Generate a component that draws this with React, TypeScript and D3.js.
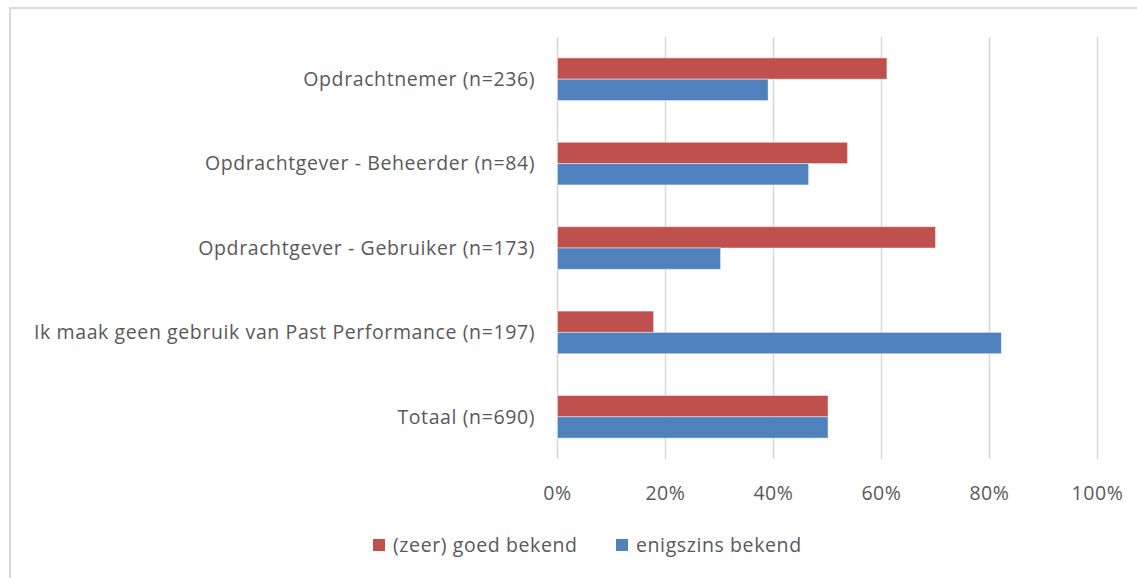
import * as d3 from "d3";

const categories = [
  "Opdrachtnemer (n=236)",
  "Opdrachtgever - Beheerder (n=84)",
  "Opdrachtgever - Gebruiker (n=173)",
  "Ik maak geen gebruik van Past Performance (n=197)",
  "Totaal (n=690)",
];
const seriesNames = ["(zeer) goed bekend", "enigszins bekend"];
const zeerGoedBekend = [0.61, 0.537, 0.70, 0.178, 0.501];
const enigszinsBekend = [0.39, 0.465, 0.302, 0.822, 0.501];
const xTicks = [0, 0.2, 0.4, 0.6, 0.8, 1];

const colors = ["#C0504D", "#4F81BD"];
const textColor = "#595959";
const font = "'Open Sans', sans-serif";
const fontSize = 19.5;
const spacing = 0.6;

export default function App() {
  const width = 1137;
  const height = 578;
  const plot = { left: 557.5, right: 1097.5, top: 37, bottom: 459 };

  const x = d3.scaleLinear().domain([0, 1]).range([plot.left, plot.right]);
  const y = d3
    .scaleBand<string>()
    .domain(categories)
    .range([plot.top, plot.bottom])
    .paddingInner(0.495)
    .paddingOuter(0.2475);
  const sub = d3
    .scaleBand<string>()
    .domain(seriesNames)
    .range([0, y.bandwidth()]);

  const series = [zeerGoedBekend, enigszinsBekend];

  return (
    <svg
      width={width}
      height={height}
      style={{ position: "absolute", left: 0, top: 0, background: "#fff" }}
      fontFamily={font}
      fontSize={fontSize}
      letterSpacing={spacing}
    >
      {/* chart border */}
      <rect
        x={10}
        y={8}
        width={width + 10}
        height={height + 10}
        fill="none"
        stroke="#d9d9d9"
        strokeWidth={2}
      />

      {/* gridlines */}
      {xTicks.map((t) => (
        <line
          key={t}
          x1={x(t)}
          x2={x(t)}
          y1={plot.top}
          y2={plot.bottom}
          stroke="#d9d9d9"
          strokeWidth={1.6}
        />
      ))}

      {/* bars */}
      {categories.map((c, i) =>
        series.map((vals, s) => (
          <rect
            key={c + s}
            x={x(0)}
            y={(y(c) ?? 0) + (sub(seriesNames[s]) ?? 0)}
            width={x(vals[i]) - x(0)}
            height={sub.bandwidth()}
            fill={colors[s]}
            stroke="#ffffff"
            strokeOpacity={0.45}
            strokeWidth={1}
          />
        ))
      )}

      {/* category labels */}
      {categories.map((c) => (
        <text
          key={c}
          x={535}
          y={(y(c) ?? 0) + y.bandwidth() / 2}
          dy="0.35em"
          textAnchor="end"
          fill={textColor}
        >
          {c}
        </text>
      ))}

      {/* x tick labels */}
      {xTicks.map((t) => (
        <text
          key={t}
          x={x(t)}
          y={493}
          dy="0.35em"
          textAnchor="middle"
          fill={textColor}
        >
          {d3.format(".0%")(t)}
        </text>
      ))}

      {/* legend */}
      {seriesNames.map((n, s) => {
        const lx = [373, 616][s];
        return (
          <g key={n}>
            <rect x={lx} y={539} width={12} height={12} fill={colors[s]} />
            <text x={lx + 20} y={545} dy="0.35em" fill={textColor}>
              {n}
            </text>
          </g>
        );
      })}
    </svg>
  );
}
